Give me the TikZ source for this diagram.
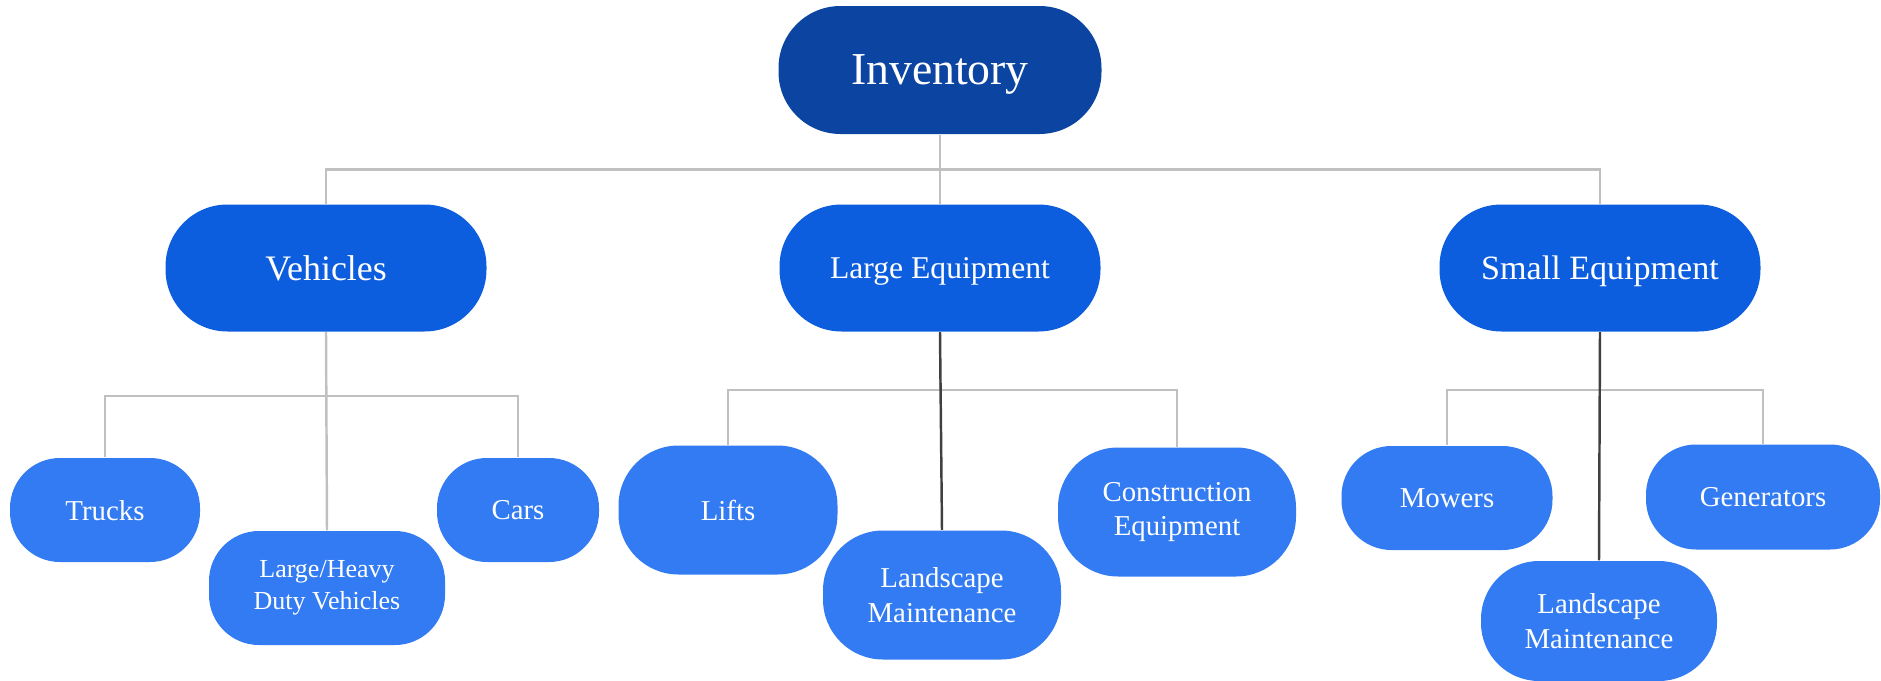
\documentclass[tikz,border=0pt]{standalone}
\usepackage{fontspec}
\setmainfont{Liberation Serif}
\usepackage{tikz}
\usetikzlibrary{positioning}

\definecolor{rootblue}{RGB}{11,69,161}
\definecolor{groupblue}{RGB}{13,94,222}
\definecolor{itemblue}{RGB}{50,123,242}
\definecolor{linkgray}{RGB}{192,192,192}
\definecolor{linkdark}{RGB}{64,64,64}

\begin{document}
\begin{tikzpicture}[
		root/.style={fill=rootblue,text=white,rounded corners=0.62cm,inner sep=0pt,text depth=0pt,
			minimum width=3.23cm,minimum height=1.28cm,font=\fontsize{13}{15.6}\selectfont},
		group/.style={fill=groupblue,text=white,rounded corners=0.62cm,inner sep=0pt,text depth=0pt,
			minimum width=3.21cm,minimum height=1.27cm},
		item/.style={fill=itemblue,text=white,rounded corners=0.5cm,inner sep=0pt,align=center,
			font=\fontsize{8.2}{9.9}\selectfont},
		link/.style={draw=linkgray,line width=0.7pt},
		trunk/.style={draw=linkdark,line width=0.7pt}]
	\useasboundingbox (0,0) rectangle (18.81,-6.81);

	\node[root] (inv) at (9.40,-0.70) {Inventory};

	\node[group,font=\fontsize{10.2}{12}\selectfont] (veh) at (3.26,-2.68) {Vehicles};
	\node[group,font=\fontsize{9}{11}\selectfont] (large) at (9.40,-2.68) {Large Equipment};
	\node[group,font=\fontsize{9.7}{11.5}\selectfont] (small) at (16.00,-2.68) {Small Equipment};

	\node[item,minimum width=1.90cm,minimum height=1.04cm,text depth=0pt] (trucks) at (1.05,-5.10) {Trucks};
	\node[item,minimum width=2.36cm,minimum height=1.14cm,font=\fontsize{7.4}{9}\selectfont] (heavy) at (3.27,-5.88) {Large/Heavy\\Duty Vehicles};
	\node[item,minimum width=1.62cm,minimum height=1.04cm,text depth=0pt] (cars) at (5.18,-5.10) {Cars};

	\node[item,minimum width=2.19cm,minimum height=1.29cm,rounded corners=0.6cm,text depth=0pt] (lifts) at (7.28,-5.10) {Lifts};
	\node[item,minimum width=2.38cm,minimum height=1.29cm,rounded corners=0.6cm] (landA) at (9.42,-5.95) {Landscape\\Maintenance};
	\node[item,minimum width=2.38cm,minimum height=1.29cm,rounded corners=0.6cm] (constr) at (11.77,-5.12) {Construction\\Equipment};

	\node[item,minimum width=2.11cm,minimum height=1.04cm,text depth=0pt] (mowers) at (14.47,-4.98) {Mowers};
	\node[item,minimum width=2.34cm,minimum height=1.05cm,text depth=0pt] (gen) at (17.63,-4.97) {Generators};
	\node[item,minimum width=2.36cm,minimum height=1.20cm,rounded corners=0.58cm] (landB) at (15.99,-6.21) {Landscape\\Maintenance};

	\draw[link] (inv.south) -- (large.north);
	\draw[link] (inv.south) -- ++(0,-0.35) -| (veh.north);
	\draw[link] (inv.south) -- ++(0,-0.35) -| (small.north);

	\draw[link] (veh.south) -- (heavy.north);
	\draw[link] (veh.south) -- ++(0,-0.64) -| (trucks.north);
	\draw[link] (veh.south) -- ++(0,-0.64) -| (cars.north);

	\draw[link] (large.south) -- ++(0,-0.58) -| (lifts.north);
	\draw[link] (large.south) -- ++(0,-0.58) -| (constr.north);
	\draw[trunk] (large.south) -- (landA.north);

	\draw[link] (small.south) -- ++(0,-0.58) -| (mowers.north);
	\draw[link] (small.south) -- ++(0,-0.58) -| (gen.north);
	\draw[trunk] (small.south) -- (landB.north);
\end{tikzpicture}
\end{document}
